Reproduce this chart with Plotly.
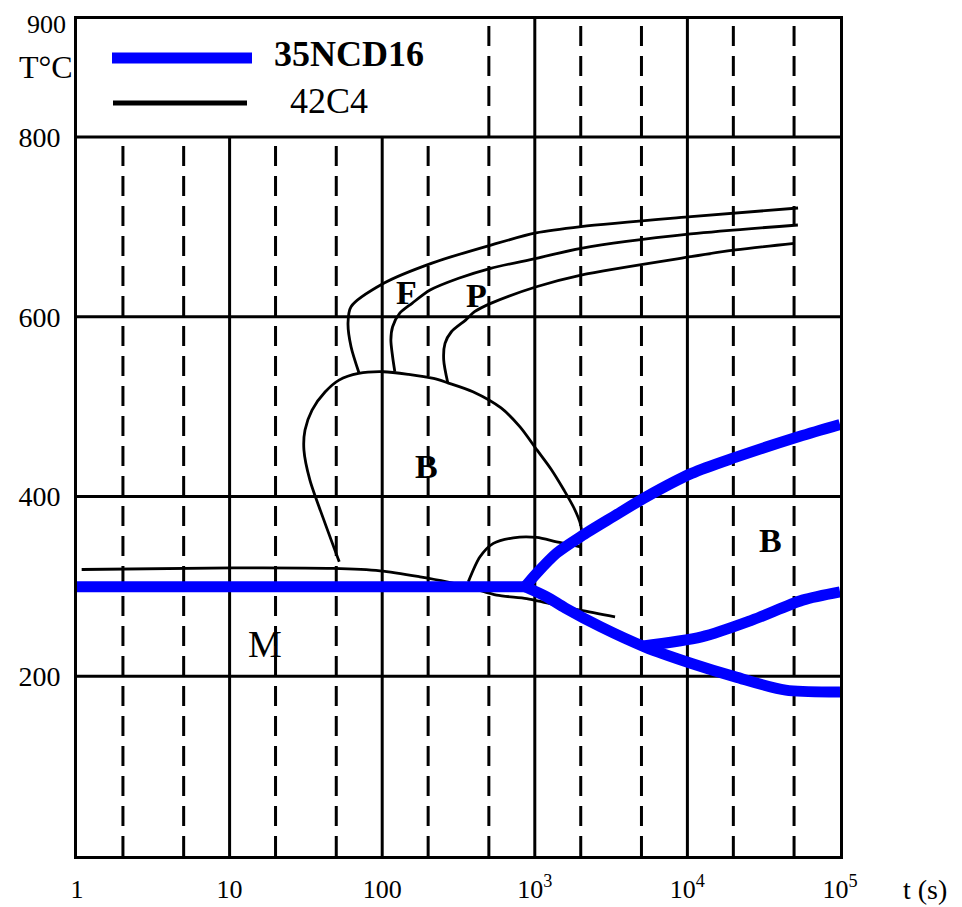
import math
import plotly.graph_objects as go

# ---------------- data ----------------
# 35NCD16 (blue)
ms_35_t = [1, 863]
ms_35_T = [299.5, 299.5]
bs_35_t = [863, 1029, 1390, 1999, 3269, 5410, 10650, 20600, 54000, 100000]
bs_35_T = [299.5, 314.6, 337.0, 355.4, 377.6, 399.9, 425.7, 443.5, 466.8, 480.2]
low_35_t = [863, 1197, 1580, 2710, 5240, 10650, 20600, 44100, 100000]
low_35_T = [299.5, 288.3, 276.0, 254.9, 232.7, 214.2, 199.3, 184.5, 182.6]
third_35_t = [5000, 12400, 26500, 56800, 100000]
third_35_T = [233.5, 243.8, 262.4, 284.7, 293.9]

# 42C4 (black)
f_t = [53100, 10570, 2010, 1019, 516, 212, 103, 62.5, 59.7, 62.5, 70.5]
f_T = [721.0, 711.3, 700.2, 693.2, 679.8, 659.7, 637.5, 611.2, 593.0, 566.6, 537.4]
mid_t = [52970, 10510, 2009, 1025, 514, 317, 206, 157, 130, 117, 114, 117, 121]
mid_T = [702.1, 692.1, 676.2, 665.0, 653.9, 642.8, 629.7, 615.0, 603.8, 588.9, 574.1, 555.5, 538.8]
p_t = [50150, 20640, 10510, 2009, 1025, 514, 403, 352, 284, 258, 253, 269]
p_T = [681.7, 674.3, 666.8, 646.4, 633.4, 614.9, 605.6, 596.3, 583.3, 570.4, 551.8, 526.5]
nose_t = [52.3, 41.5, 33.6, 30.7, 31.2, 34.7, 42.2, 52.1, 70, 102, 149, 217, 269, 393, 601,
          800, 1033, 1276, 1552, 1806, 2000, 2038]
nose_T = [327.3, 373.7, 418.2, 451.6, 473.9, 496.2, 516.2, 529.5, 537.0, 538.8, 535.9, 531.4,
          526.5, 516.6, 498.5, 477.4, 451.8, 430.6, 407.2, 387.2, 368.2, 353.8]
ms_42_t = [1.073, 10.6, 47.6, 96.8, 177, 265, 400, 562, 885, 1197, 1977, 3356]
ms_42_T = [318.8, 320.6, 320.0, 317.3, 310.6, 305.0, 297.5, 290.3, 286.5, 281.6, 273.5, 266.1]
hump_t = [366.6, 437.5, 535, 723, 1028, 1390, 1786, 1990]
hump_T = [305.0, 332.9, 347.8, 354.0, 354.4, 349.6, 345.9, 344.0]

# region labels
region_text = ["F", "P", "B", "M", "B"]
region_t = [145, 412, 194, 17.1, 35300]
region_T = [627.5, 624.2, 433.7, 235.7, 351.4]
region_bold = [True, True, True, False, True]

# axes
x_tickvals = [1, 10, 100, 1000, 10000, 100000]
x_ticktext = ["1", "10", "100", "10<sup>3</sup>", "10<sup>4</sup>", "10<sup>5</sup>"]
y_tickvals = [200, 400, 600, 800]
y_ticktext = ["200", "400", "600", "800"]
solid_v = [10, 100, 1000, 10000]
dashed_v = [2, 5, 20, 50, 200, 500, 2000, 5000, 20000, 50000]
solid_h = [200, 400, 600, 800]

# ---------------- layout constants ----------------
BODY = 8                      # default page margin of the html body
W, H = 962 - BODY, 907 - BODY
L, R, T, B = 77, 840, 19, 856  # plot area in page pixels
Y_TOP = (B - T) / ((B - 137) / 800.0)
FONT = "Liberation Serif"
BLUE = "#0000FF"


def px(xp, yp):
    return (xp - L) / (R - L), (B - yp) / (B - T)


fig = go.Figure()

black = dict(color="black", width=2.8)
for tx, ty in [(f_t, f_T), (mid_t, mid_T), (p_t, p_T), (nose_t, nose_T),
               (ms_42_t, ms_42_T), (hump_t, hump_T)]:
    fig.add_trace(go.Scatter(x=tx, y=ty, mode="lines", line=dict(**black, shape="spline", smoothing=0.8),
                             showlegend=False, hoverinfo="skip"))

blue = dict(color=BLUE, width=11)
for tx, ty in [(ms_35_t, ms_35_T), (bs_35_t, bs_35_T), (low_35_t, low_35_T), (third_35_t, third_35_T)]:
    fig.add_trace(go.Scatter(x=tx, y=ty, mode="lines", line=dict(**blue, shape="spline", smoothing=0.8),
                             showlegend=False, hoverinfo="skip"))

shapes = []
for v in solid_v:
    top = 800 if v < 400 else Y_TOP
    shapes.append(dict(type="line", xref="x", yref="y", x0=v, x1=v, y0=0, y1=top,
                       line=dict(color="black", width=3), layer="below"))
for v in dashed_v:
    top = 800 if v < 400 else Y_TOP
    shapes.append(dict(type="line", xref="x", yref="y", x0=v, x1=v, y0=0, y1=top,
                       line=dict(color="black", width=3, dash="20px,10px"), layer="below"))
for h in solid_h:
    shapes.append(dict(type="line", xref="paper", yref="y", x0=0, x1=1, y0=h, y1=h,
                       line=dict(color="black", width=3), layer="below"))

# legend samples
bx0, by = px(112, 58)
bx1, _ = px(252, 58)
shapes.append(dict(type="line", xref="paper", yref="paper", x0=bx0, x1=bx1, y0=by, y1=by,
                   line=dict(color=BLUE, width=11)))
kx0, ky = px(113, 103)
kx1, _ = px(247, 103)
shapes.append(dict(type="line", xref="paper", yref="paper", x0=kx0, x1=kx1, y0=ky, y1=ky,
                   line=dict(color="black", width=5)))

annotations = []


def note(xp, yp, text, size, anchor="center", vanchor="middle"):
    ax, ay = px(xp, yp)
    annotations.append(dict(xref="paper", yref="paper", x=ax, y=ay, xanchor=anchor, yanchor=vanchor,
                            text=text, showarrow=False, font=dict(family=FONT, size=size, color="black")))


note(272, 54, "<b>35NCD16</b>", 36, "left")
note(288, 101, "42C4", 36, "left")
note(68, 8.5, "900", 26, "right", "top")
note(46, 67, "T°C", 32)
note(925, 889, "t (s)", 28)

for txt, tx, ty, bold in zip(region_text, region_t, region_T, region_bold):
    annotations.append(dict(xref="x", yref="y", x=math.log10(tx), y=ty,
                            text=(f"<b>{txt}</b>" if bold else txt),
                            showarrow=False, xanchor="center", yanchor="middle",
                            font=dict(family=FONT, size=34 if bold else 38, color="black")))

fig.update_layout(
    width=W, height=H, autosize=False,
    margin=dict(l=L - BODY, r=W - (R - BODY), t=T - BODY, b=H - (B - BODY), pad=0, autoexpand=False),
    paper_bgcolor="white", plot_bgcolor="white",
    showlegend=False,
    shapes=shapes, annotations=annotations,
    xaxis=dict(type="log", range=[0, 5], tickvals=x_tickvals, ticktext=x_ticktext, automargin=False,
               showgrid=False, zeroline=False, showline=True, mirror=True, linecolor="black", linewidth=3,
               ticks="", ticklabelstandoff=8, tickfont=dict(family=FONT, size=26, color="black")),
    yaxis=dict(range=[0, Y_TOP], tickvals=y_tickvals, ticktext=y_ticktext, automargin=False,
               showgrid=False, zeroline=False, showline=True, mirror=True, linecolor="black", linewidth=3,
               ticks="", ticklabelstandoff=8, tickfont=dict(family=FONT, size=28, color="black")),
)

fig.write_html("out.html")
